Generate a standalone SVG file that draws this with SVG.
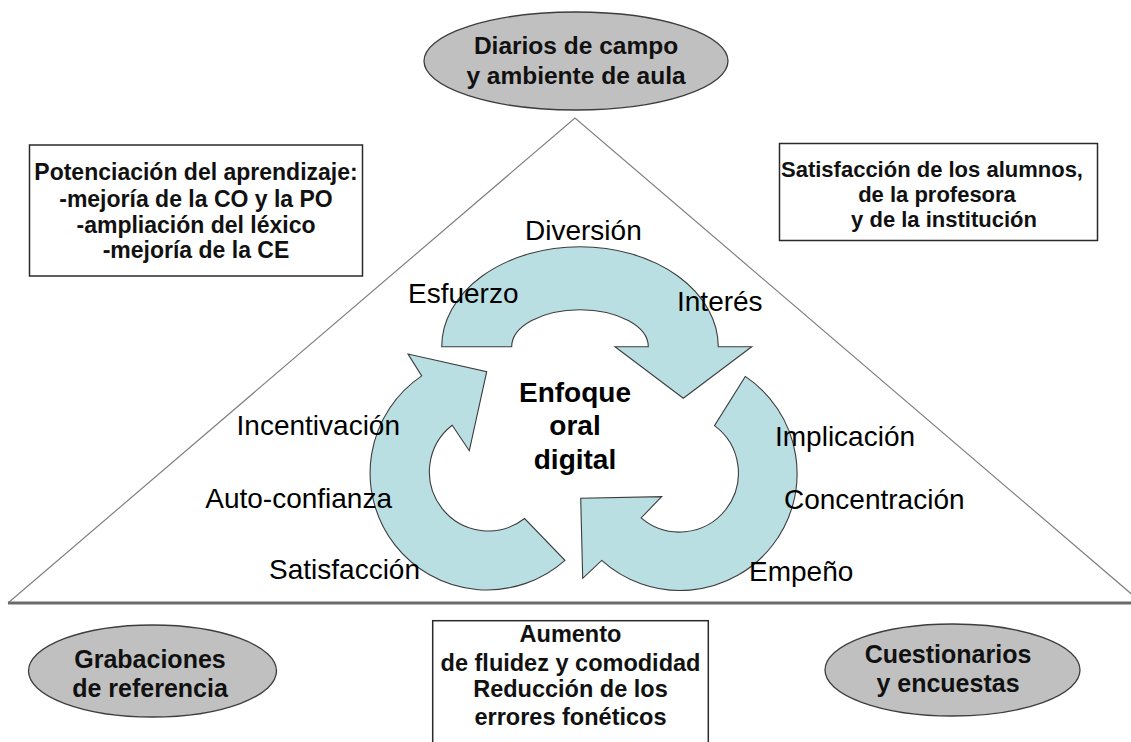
<svg xmlns="http://www.w3.org/2000/svg" width="1131" height="742" viewBox="0 0 1131 742">
<style>
.bg{fill:#ffffff}
.tri{fill:none;stroke:#808080;stroke-width:1.2}
.base{fill:none;stroke:#6b6b6b;stroke-width:2.8}
.arrow{fill:#b9dfe3;stroke:#3c3c3c;stroke-width:1.1;stroke-linejoin:miter}
.oval{fill:#c0c0c0;stroke:#3c3c3c;stroke-width:1.3}
.box{fill:#ffffff;stroke:#2a2a2a;stroke-width:1.5}
.lbl{font-family:"Liberation Sans",Arial,sans-serif;font-size:28px;fill:#000}
.ctr{font-family:"Liberation Sans",Arial,sans-serif;font-size:28px;font-weight:bold;fill:#000;text-anchor:middle}
.ot{font-family:"Liberation Sans",Arial,sans-serif;font-size:25px;font-weight:bold;fill:#111;text-anchor:middle}
.bt{font-family:"Liberation Sans",Arial,sans-serif;font-weight:bold;fill:#111;text-anchor:middle}
</style>
<rect class="bg" x="0" y="0" width="1131" height="742"/>
<g id="triangle">
<path class="tri" d="M 8 603 L 575 118 L 1142 603"/>
<path class="base" d="M 8 603 L 1131 603"/>
</g>
<g id="cycle">
<path id="arrow-top" class="arrow" d="M 441.7 346.7 A 138.3 100 0 0 1 718.3 346.7 L 751.7 346.7 L 683.3 398.3 L 615 346.7 L 648.3 346.7 A 68.3 37 0 0 0 511.7 346.7 Z"/>
<path id="arrow-right" class="arrow" d="M 745.3 376.4 A 117 117 0 1 1 601.7 560.4 L 582.7 578.3 L 580.7 498.3 L 661.7 496.7 L 641.1 517.9 A 59 59 0 1 0 714.5 425.6 Z"/>
<path id="arrow-left" class="arrow" d="M 564.9 560.3 A 117 117 0 1 1 421.7 375.9 L 408 354 L 486.7 371.7 L 469.3 450.7 L 452.2 425.3 A 59 59 0 1 0 524.6 518.5 Z"/>
</g>
<g id="labels">
<text class="lbl" x="525" y="240">Diversión</text>
<text class="lbl" x="408" y="303">Esfuerzo</text>
<text class="lbl" x="677" y="311">Interés</text>
<text class="lbl" x="400" y="435" text-anchor="end">Incentivación</text>
<text class="lbl" x="392" y="508" text-anchor="end">Auto-confianza</text>
<text class="lbl" x="420" y="579" text-anchor="end">Satisfacción</text>
<text class="lbl" x="775" y="446">Implicación</text>
<text class="lbl" x="784" y="509">Concentración</text>
<text class="lbl" x="749" y="581">Empeño</text>
</g>
<g id="center">
<text class="ctr" x="575" y="402">Enfoque</text>
<text class="ctr" x="575" y="435">oral</text>
<text class="ctr" x="575" y="469">digital</text>
</g>
<g id="node-diarios">
<ellipse class="oval" cx="576" cy="61" rx="152" ry="49"/>
<text class="ot" x="576" y="54" style="font-size:24.5px">Diarios de campo</text>
<text class="ot" x="576" y="84" style="font-size:24.5px">y ambiente de aula</text>
</g>
<g id="node-potenciacion">
<rect class="box" x="29.5" y="145" width="333" height="131"/>
<text class="bt" x="196" y="180" style="font-size:23px">Potenciación del aprendizaje:</text>
<text class="bt" x="196" y="207" style="font-size:23px">-mejoría de la CO y la PO</text>
<text class="bt" x="196" y="233" style="font-size:23px">-ampliación del léxico</text>
<text class="bt" x="196" y="258" style="font-size:23px">-mejoría de la CE</text>
</g>
<g id="node-satisfaccion">
<rect class="box" x="779.5" y="143.5" width="318" height="97"/>
<text class="bt" x="932" y="177" style="font-size:22px">Satisfacción de los alumnos,</text>
<text class="bt" x="937" y="202" style="font-size:22px">de la profesora</text>
<text class="bt" x="944" y="227" style="font-size:22px">y de la institución</text>
</g>
<g id="node-grabaciones">
<ellipse class="oval" cx="152.5" cy="671" rx="124" ry="46"/>
<text class="ot" x="150" y="668">Grabaciones</text>
<text class="ot" x="150" y="697">de referencia</text>
</g>
<g id="node-aumento">
<rect class="box" x="432.7" y="620.7" width="275.6" height="130"/>
<text class="bt" x="570.5" y="642" style="font-size:23.5px">Aumento</text>
<text class="bt" x="570.5" y="671" style="font-size:23.5px">de fluidez y comodidad</text>
<text class="bt" x="570.5" y="697" style="font-size:23.5px">Reducción de los</text>
<text class="bt" x="570.5" y="725" style="font-size:23.5px">errores fonéticos</text>
</g>
<g id="node-cuestionarios">
<ellipse class="oval" cx="952.5" cy="670" rx="127.5" ry="46"/>
<text class="ot" x="948" y="663">Cuestionarios</text>
<text class="ot" x="948" y="692">y encuestas</text>
</g>
</svg>
